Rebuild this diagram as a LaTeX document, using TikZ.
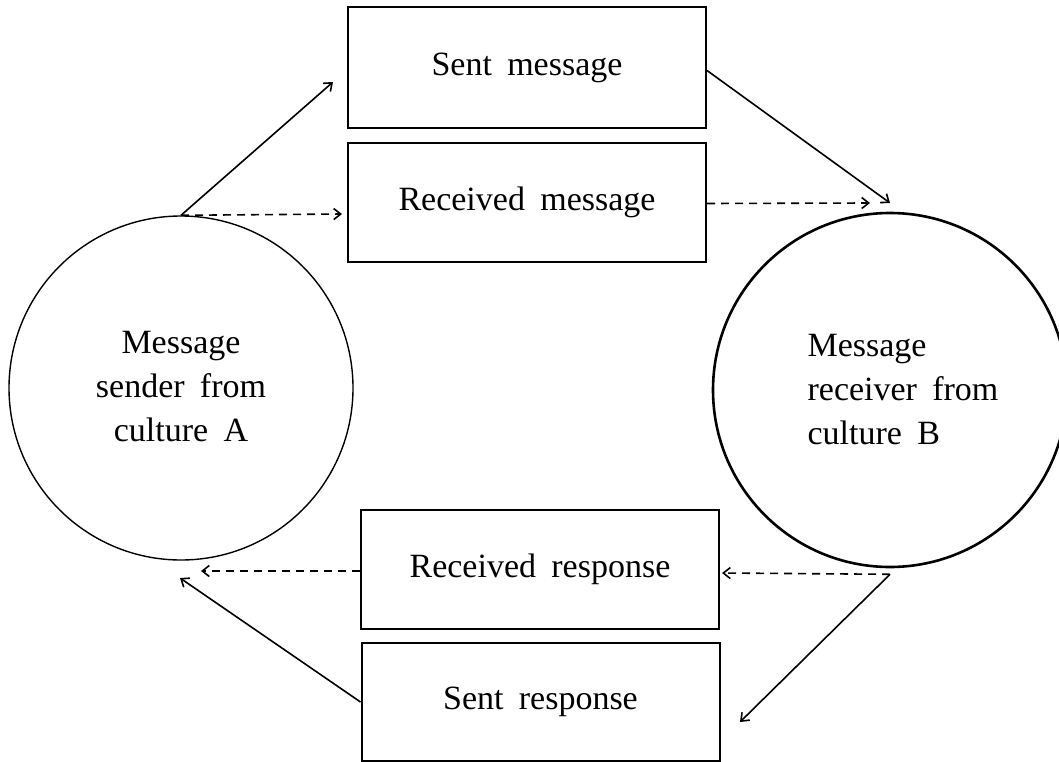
\documentclass[tikz,border=0pt]{standalone}
\usepackage{fontspec}
\setmainfont{Liberation Serif}
\usetikzlibrary{arrows.meta, positioning}
\newcommand{\msgfont}{\fontsize{34}{44}\selectfont\spaceskip=0.45em plus 0.1em\relax}

\tikzset{
  msgbox/.style={draw, line width=2pt, minimum width=358pt, minimum height=119pt, inner sep=0pt},
  party/.style={draw, circle, inner sep=0pt},
  flow/.style={line width=1.6pt, -{Straight Barb[length=7pt,width=11pt,line width=1.6pt]}},
  flowd/.style={flow, dash pattern=on 8pt off 6pt},
}

\begin{document}
\begin{tikzpicture}[x=1pt,y=-1pt,font=\msgfont]
  \clip (0,0) rectangle (1059,762);
  % the two parties
  \node[party, line width=1.4pt, minimum size=344pt] (sender) at (181,388) {};
  \node[party, line width=2.6pt, minimum size=354pt] (receiver) at (890,390) {};
  \node[align=center] (sendertext) at (181,387) {Message\\sender from\\culture A};
  \node[align=left] (receivertext) at (903,390) {Message\\receiver from\\culture B};
  % message boxes
  \node[msgbox, minimum height=121pt] (sent) at (527,67.5) {Sent message};
  \node[msgbox] (received) at (527,202.5) {Received message};
  \node[msgbox] (recresp) at (540,569.5) {Received response};
  \node[msgbox, minimum height=118pt] (sentresp) at (540.5,702) {Sent response};
  % free arrow ends
  \coordinate (sentin) at (333,82);
  \coordinate (recvin) at (342,214);
  \coordinate (toB) at (890,203);
  \coordinate (toBd) at (870,203);
  \coordinate (respin) at (722,573);
  \coordinate (sentrespin) at (740,722);
  \coordinate (toA) at (180,578);
  \coordinate (toAd) at (201,571);
  % message from A to B
  \draw[flow] (sender.north) -- (sentin);
  \draw[flowd] (sender.north) -- (recvin);
  \draw[flow] ([yshift=-3pt]sent.east) -- (toB);
  \draw[flowd] ([yshift=-1pt]received.east) -- (toBd);
  % response from B to A
  \draw[flowd] ([yshift=-6pt]receiver.south) -- (respin);
  \draw[flow] ([yshift=-6pt]receiver.south) -- (sentrespin);
  \draw[flowd] ([yshift=-1.5pt]recresp.west) -- (toAd);
  \draw[flow] (sentresp.west) -- (toA);
\end{tikzpicture}
\end{document}
